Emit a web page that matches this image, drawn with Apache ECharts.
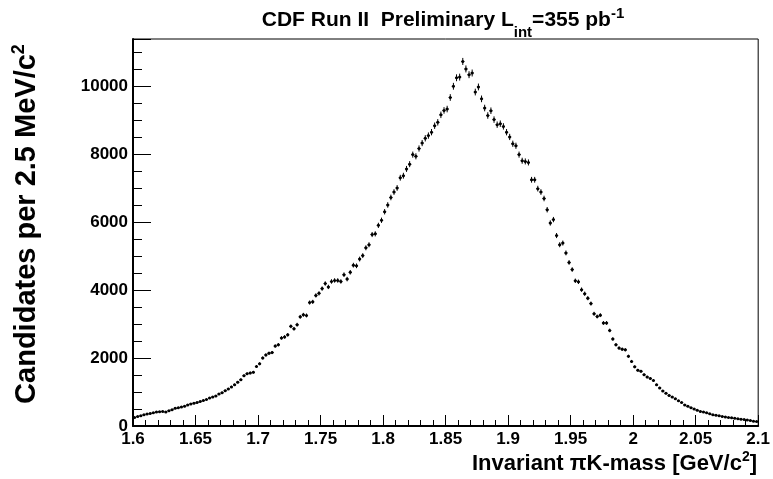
<!DOCTYPE html>
<html><head><meta charset="utf-8">
<script src="https://cdn.jsdelivr.net/npm/echarts@6/dist/echarts.min.js"></script>
<style>html,body{margin:0;padding:0;background:#fff}#c{width:773px;height:479px}</style>
</head><body><div id="c"></div>
<script>
// Histogram definition: 200 bins of 2.5 MeV from 1.6 to 2.1 GeV
const binStart = 1.6;
const binWidth = 0.0025;
const counts = [
250,280,300,330,350,370,390,410,420,430,
410,450,480,520,540,560,580,620,650,670,
690,720,750,780,820,850,880,940,980,1040,
1090,1150,1210,1290,1360,1480,1540,1560,1580,1750,
1830,2000,2090,2140,2160,2350,2390,2590,2620,2680,
2930,2860,2980,3210,3270,3250,3630,3650,3840,3900,
4040,4190,4090,4250,4280,4280,4250,4450,4320,4520,
4730,4710,4910,5010,5240,5330,5630,5650,5900,6050,
6300,6500,6720,6880,7000,7300,7360,7560,7700,7980,
7930,8160,8320,8460,8540,8640,8830,8930,9150,9280,
9320,9660,9990,10240,10260,10720,10500,10330,10380,9820,
9970,9620,9350,9130,9270,9010,8860,8890,8810,8640,
8500,8300,8240,7980,7800,7780,7750,7240,7240,6980,
6880,6690,6360,5970,6070,5600,5330,5380,5090,4810,
4600,4270,4240,4010,3890,3760,3600,3300,3220,3260,
3030,3030,2810,2560,2390,2290,2260,2240,2050,1900,
1740,1640,1610,1510,1440,1400,1340,1210,1120,1030,
960,900,850,800,740,690,620,580,540,500,
460,430,410,390,360,330,315,300,280,265,
250,240,225,215,200,190,175,160,140,130
];
const xMin = 1.6, xMax = 2.1, xMajor = 0.05, xMinor = 0.01;
const yMin = 0, yMax = 11380, yMajor = 2000, yMinor = 500;
const titleText = '{a|CDF Run II  Preliminary L}{sub|int}{a|=355 pb}{sup|-1}';
const xTitle = '{a|Invariant \u03c0K-mass [GeV/c}{sup|2}{a|]}';
const yTitle = '{a|Candidates per 2.5 MeV/c}{sup|2}';

const FONT = '"Liberation Sans", Arial, Helvetica, sans-serif';
const data = counts.map((c, i) => [binStart + binWidth * (i + 0.5), c]);

const chart = echarts.init(document.getElementById('c'), null, {renderer: 'canvas'});
const fmtX = v => String(parseFloat(v.toFixed(3)));
const labelStyle = {color: '#000', fontFamily: FONT, fontWeight: 'bold', fontSize: 17};

chart.setOption({
  animation: false,
  backgroundColor: '#fff',
  grid: {left: 133, top: 39, width: 626, height: 387, show: true, borderColor: '#000', borderWidth: 1, backgroundColor: 'transparent'},
  xAxis: [
    {type: 'value', min: xMin, max: xMax, interval: xMajor, position: 'bottom',
     axisLine: {show: true, onZero: false, lineStyle: {color: '#000', width: 2}},
     axisTick: {show: true, inside: true, length: 11, lineStyle: {color: '#000', width: 1}},
     axisLabel: Object.assign({formatter: fmtX, margin: 5, showMinLabel: true, showMaxLabel: true}, labelStyle),
     splitLine: {show: false}},
    {type: 'value', min: xMin, max: xMax, interval: xMinor, position: 'bottom',
     axisLine: {show: false}, axisTick: {show: true, inside: true, length: 6, lineStyle: {color: '#000', width: 1}},
     axisLabel: {show: false}, splitLine: {show: false}}
  ],
  yAxis: [
    {type: 'value', min: yMin, max: yMax, interval: yMajor, position: 'left',
     axisLine: {show: true, onZero: false, lineStyle: {color: '#000', width: 2}},
     axisTick: {show: true, inside: true, length: 18, lineStyle: {color: '#000', width: 1}},
     axisLabel: Object.assign({formatter: v => (v % yMajor === 0 ? String(v) : ''), margin: 5}, labelStyle),
     splitLine: {show: false}},
    {type: 'value', min: yMin, max: yMax, interval: yMinor, position: 'left',
     axisLine: {show: false}, axisTick: {show: true, inside: true, length: 9, lineStyle: {color: '#000', width: 1}},
     axisLabel: {show: false}, splitLine: {show: false}}
  ],
  graphic: [
    {type: 'text', x: 443, y: 0, style: {text: titleText, fill: '#000', align: 'center', verticalAlign: 'top',
      rich: {a: {fontFamily: FONT, fontWeight: 'bold', fontSize: 21, lineHeight: 40, fill: '#000'},
             sub: {fontFamily: FONT, fontWeight: 'bold', fontSize: 15, lineHeight: 14, verticalAlign: 'bottom', fill: '#000'},
             sup: {fontFamily: FONT, fontWeight: 'bold', fontSize: 15, lineHeight: 16, padding: [6, 0, 0, 0], verticalAlign: 'top', fill: '#000'}}}},
    {type: 'text', right: 16, top: 450, style: {text: xTitle, fill: '#000',
      rich: {a: {fontFamily: FONT, fontWeight: 'bold', fontSize: 22, lineHeight: 28, fill: '#000'},
             sup: {fontFamily: FONT, fontWeight: 'bold', fontSize: 14, lineHeight: 20, verticalAlign: 'top', fill: '#000'}}}},
    {type: 'text', x: 27, y: 224, rotation: Math.PI / 2, style: {text: yTitle, fill: '#000', align: 'center', verticalAlign: 'middle',
      rich: {a: {fontFamily: FONT, fontWeight: 'bold', fontSize: 29, lineHeight: 34, fill: '#000'},
             sup: {fontFamily: FONT, fontWeight: 'bold', fontSize: 18, lineHeight: 24, verticalAlign: 'top', fill: '#000'}}}}
  ],
  series: [{
    type: 'custom',
    xAxisIndex: 0, yAxisIndex: 0,
    clip: true,
    data: data,
    renderItem: function (params, api) {
      const x = api.value(0), y = api.value(1);
      const err = Math.sqrt(y);
      const pL = api.coord([x - binWidth / 2, y]);
      const pR = api.coord([x + binWidth / 2, y]);
      const pT = api.coord([x, y + err]);
      const pB = api.coord([x, y - err]);
      const pC = api.coord([x, y]);
      const st = {stroke: '#000', lineWidth: 1};
      return {type: 'group', children: [
        {type: 'line', shape: {x1: pL[0], y1: pC[1], x2: pR[0], y2: pC[1]}, style: st},
        {type: 'line', shape: {x1: pC[0], y1: pT[1], x2: pC[0], y2: pB[1]}, style: st},
        {type: 'circle', shape: {cx: pC[0], cy: pC[1], r: 1.5}, style: {fill: '#000'}}
      ]};
    }
  }]
});
</script></body></html>
